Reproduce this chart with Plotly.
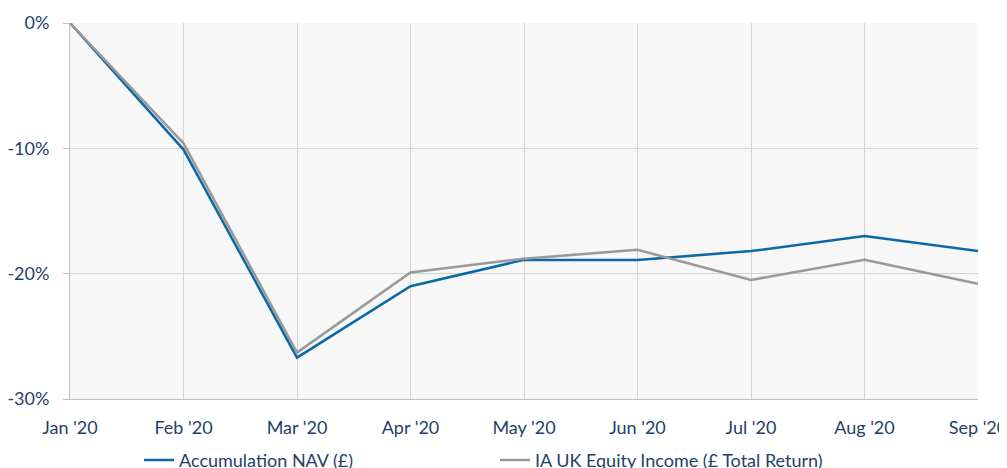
import plotly.graph_objects as go

months = ["Jan '20", "Feb '20", "Mar '20", "Apr '20", "May '20", "Jun '20", "Jul '20", "Aug '20", "Sep '20"]
nav = [0.0, -10.1, -26.7, -21.0, -18.9, -18.9, -18.2, -17.0, -18.2]
sector = [0.0, -9.6, -26.3, -19.9, -18.8, -18.1, -20.5, -18.9, -20.8]
y_ticks = [0, -10, -20, -30]
y_tick_labels = ["0%", "-10%", "-20%", "-30%"]

TXT = "#1f3f6b"
GRID = "#d3d3d3"

fig = go.Figure()
fig.add_trace(go.Scatter(x=months, y=nav, mode="lines", name="Accumulation NAV (£)",
                         line=dict(color="#0b68a6", width=2.5)))
fig.add_trace(go.Scatter(x=months, y=sector, mode="lines", name="IA UK Equity Income (£ Total Return)",
                         line=dict(color="#999999", width=2.5)))

# page body adds an 8px offset, so the figure is 999x460
fig.update_layout(
    width=999, height=460,
    margin=dict(l=62, r=29, t=15, b=69, autoexpand=False),
    paper_bgcolor="white", plot_bgcolor="#f7f7f7",
    font=dict(family="Lato, Open Sans, sans-serif", size=18, color=TXT),
    showlegend=True,
    legend=dict(orientation="h", x=0.076, xanchor="left", y=0.057, yanchor="top",
                yref="container", entrywidth=311, entrywidthmode="pixels",
                font=dict(size=18, color=TXT), bgcolor="rgba(0,0,0,0)"),
    xaxis=dict(type="category", range=[0, 8], showgrid=True, gridcolor=GRID, gridwidth=1,
               showline=True, linecolor="#c0c0c0", linewidth=1, ticks="", ticklabelstandoff=12,
               zeroline=False, fixedrange=True, automargin=False),
    yaxis=dict(range=[-30, 0], tickvals=y_ticks, ticktext=y_tick_labels, showgrid=True, gridcolor=GRID,
               gridwidth=1, showline=True, linecolor="#c0c0c0", linewidth=1,
               ticks="outside", ticklen=6, tickcolor="#c0c0c0", ticklabelstandoff=10,
               zeroline=False, fixedrange=True, automargin=False),
)
fig.write_html("out.html")
